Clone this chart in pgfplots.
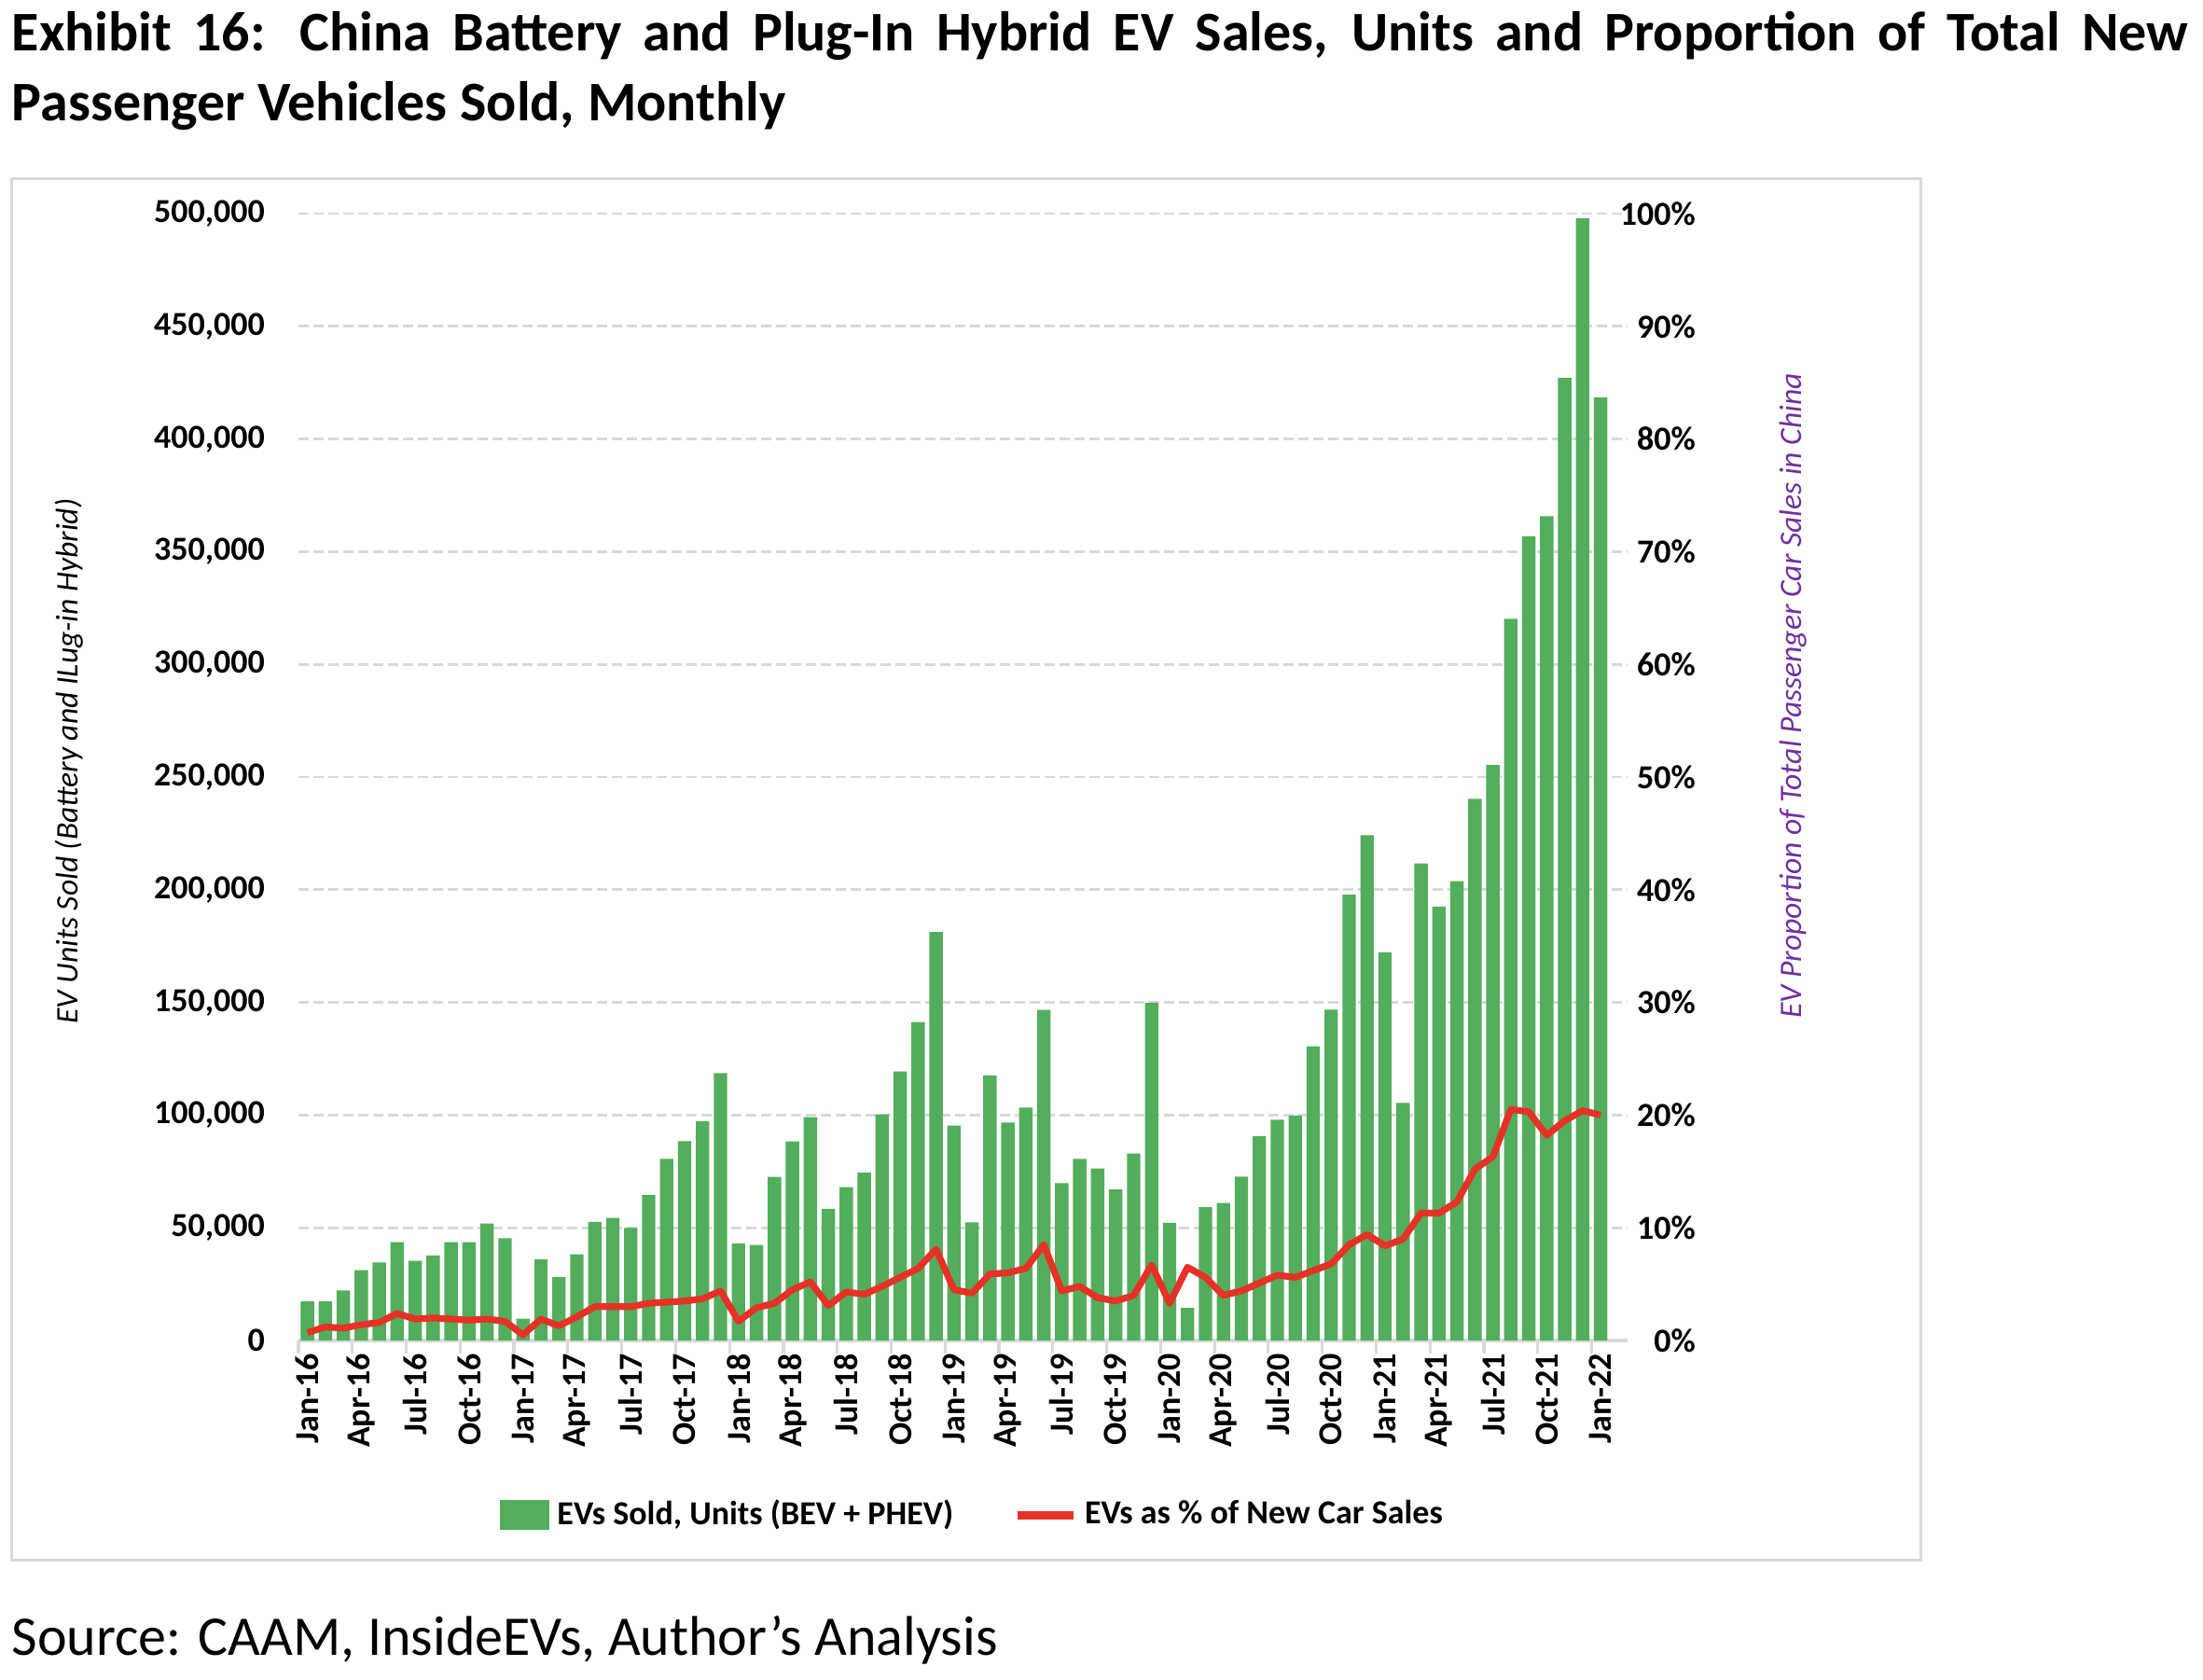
\documentclass[border=0pt]{standalone}
\usepackage{pgfplots}
\pgfplotsset{compat=1.18}
\usepackage{pgfplotstable}
\usepackage{fontspec}
\setmainfont{Carlito}
\definecolor{evgreen}{RGB}{82,174,92}
\definecolor{evred}{RGB}{230,50,38}
\definecolor{gridgray}{RGB}{217,217,217}
\definecolor{evpurple}{RGB}{112,48,160}
\pgfplotstableread{
idx units pct
1 17300 0.7
2 17300 1.2
3 22200 1.1
4 31200 1.4
5 34600 1.6
6 43600 2.4
7 35300 1.9
8 37700 2.0
9 43600 1.9
10 43600 1.8
11 51900 1.9
12 45400 1.7
13 9700 0.5
14 36000 1.9
15 28100 1.3
16 38200 2.1
17 52600 3.0
18 54400 3.0
19 49900 3.0
20 64500 3.3
21 80600 3.4
22 88400 3.5
23 97200 3.7
24 118700 4.4
25 43000 1.7
26 42400 2.9
27 72600 3.3
28 88300 4.5
29 99100 5.2
30 58400 3.1
31 68000 4.3
32 74500 4.1
33 100300 4.8
34 119400 5.6
35 141300 6.4
36 181300 8.1
37 95400 4.5
38 52400 4.2
39 117600 5.9
40 96700 6.0
41 103300 6.4
42 146700 8.5
43 69800 4.4
44 80600 4.8
45 76300 3.8
46 67000 3.5
47 83000 4.0
48 149900 6.7
49 52200 3.3
50 14400 6.5
51 59200 5.6
52 61000 4.0
53 72700 4.4
54 90600 5.1
55 98000 5.8
56 99800 5.6
57 130600 6.2
58 146800 6.8
59 197800 8.5
60 224200 9.4
61 172200 8.4
62 105400 9.0
63 211700 11.3
64 192500 11.3
65 203800 12.3
66 240300 15.2
67 255300 16.3
68 320200 20.5
69 356900 20.3
70 365800 18.2
71 427100 19.5
72 498000 20.4
73 418400 20.0
}\evdata

\begin{document}
\begin{tikzpicture}
\useasboundingbox (0,0) rectangle (590.5pt,-450pt);
\draw[gridgray, line width=0.75pt] (3pt,-47.75pt) rectangle (514.75pt,-418pt);
\node[anchor=base west, inner sep=0pt, font=\bfseries\fontsize{15}{18}\selectfont] at (3pt,-13.5pt)
  {\makebox[583.25pt][s]{Exhibit 16: China Battery and Plug-In Hybrid EV Sales, Units and Proportion of Total New}};
\node[anchor=base west, inner sep=0pt, font=\bfseries\fontsize{15}{18}\selectfont] at (3pt,-32.4pt)
  {Passenger Vehicles Sold, Monthly};
\node[anchor=base west, inner sep=0pt, font=\fontsize{15}{18}\selectfont] at (3pt,-443.5pt)
  {Source: CAAM, InsideEVs, Author’s Analysis};
\node[rotate=90, inner sep=0pt, font=\itshape\fontsize{8.4}{10}\selectfont] at (18.5pt,-204pt)
  {EV Units Sold (Battery and ILug-in Hybrid)};
\node[rotate=90, inner sep=0pt, text=evpurple, font=\itshape\fontsize{8.4}{10}\selectfont] at (480.75pt,-186.5pt)
  {EV Proportion of Total Passenger Car Sales in China};

\begin{axis}[
  at={(80pt,-359.25pt)}, anchor=south west,
  scale only axis, width=356.25pt, height=302pt,
  xmin=0.5, xmax=74.5, ymin=0, ymax=500000,
  ybar, bar width=3.6pt,
  axis x line*=bottom, axis y line*=left,
  x axis line style={draw=gridgray, line width=0.8pt, -},
  y axis line style={draw=none},
  xtick={1,4,...,73},
  xticklabels={Jan-16,Apr-16,Jul-16,Oct-16,Jan-17,Apr-17,Jul-17,Oct-17,Jan-18,Apr-18,Jul-18,Oct-18,Jan-19,Apr-19,Jul-19,Oct-19,Jan-20,Apr-20,Jul-20,Oct-20,Jan-21,Apr-21,Jul-21,Oct-21,Jan-22},
  minor xtick={0.5,3.5,...,72.5},
  major tick length=0pt, minor tick length=3.5pt,
  tick align=outside,
  minor x tick style={draw=gridgray, line width=0.8pt},
  ytick={0,50000,...,500000},
  scaled y ticks=false,
  ymajorgrids,
  major grid style={draw=gridgray, line width=0.7pt, dash pattern=on 2.7pt off 1.3pt},
  /pgf/number format/assume math mode=true,
  /pgf/number format/fixed,
  /pgf/number format/1000 sep={,},
  yticklabel style={font=\bfseries\fontsize{9}{10}\selectfont, xshift=-5.5pt},
  xticklabel style={rotate=90, anchor=east, font=\bfseries\fontsize{9}{10}\selectfont},
]
\addplot[fill=evgreen, draw=none] table[x=idx, y=units]{\evdata};
\end{axis}

\begin{axis}[
  at={(80pt,-359.25pt)}, anchor=south west,
  scale only axis, width=356.25pt, height=302pt,
  xmin=0.5, xmax=74.5, ymin=0, ymax=100,
  hide x axis,
  axis y line*=right, ytick pos=right, yticklabel pos=right,
  y axis line style={draw=none},
  ytick={0,10,...,100},
  major tick length=0pt,
  /pgf/number format/assume math mode=true,
  yticklabel={\pgfmathprintnumber{\tick}\%},
  yticklabel style={font=\bfseries\fontsize{9}{10}\selectfont, anchor=east, xshift=21.75pt},
  legend style={at={(0.1509,-0.1549)}, anchor=west, draw=none, fill=none, inner sep=0pt,
    font=\bfseries\fontsize{9}{10}\selectfont,
    /tikz/every even column/.append style={column sep=14pt}},
  legend columns=2,
  legend cell align=left,
]
\addlegendimage{legend image code/.code={\fill[evgreen] (0pt,-3.75pt) rectangle (13pt,3.75pt);}}
\addlegendentry{EVs Sold, Units (BEV + PHEV)}
\addplot[evred, line width=1.8pt, line join=round, mark=none,
  legend image code/.code={\draw[evred, line width=2.2pt] (0pt,0pt) -- (15pt,0pt);}]
  table[x=idx, y=pct]{\evdata};
\addlegendentry{EVs as \% of New Car Sales}
\end{axis}
\end{tikzpicture}
\end{document}
